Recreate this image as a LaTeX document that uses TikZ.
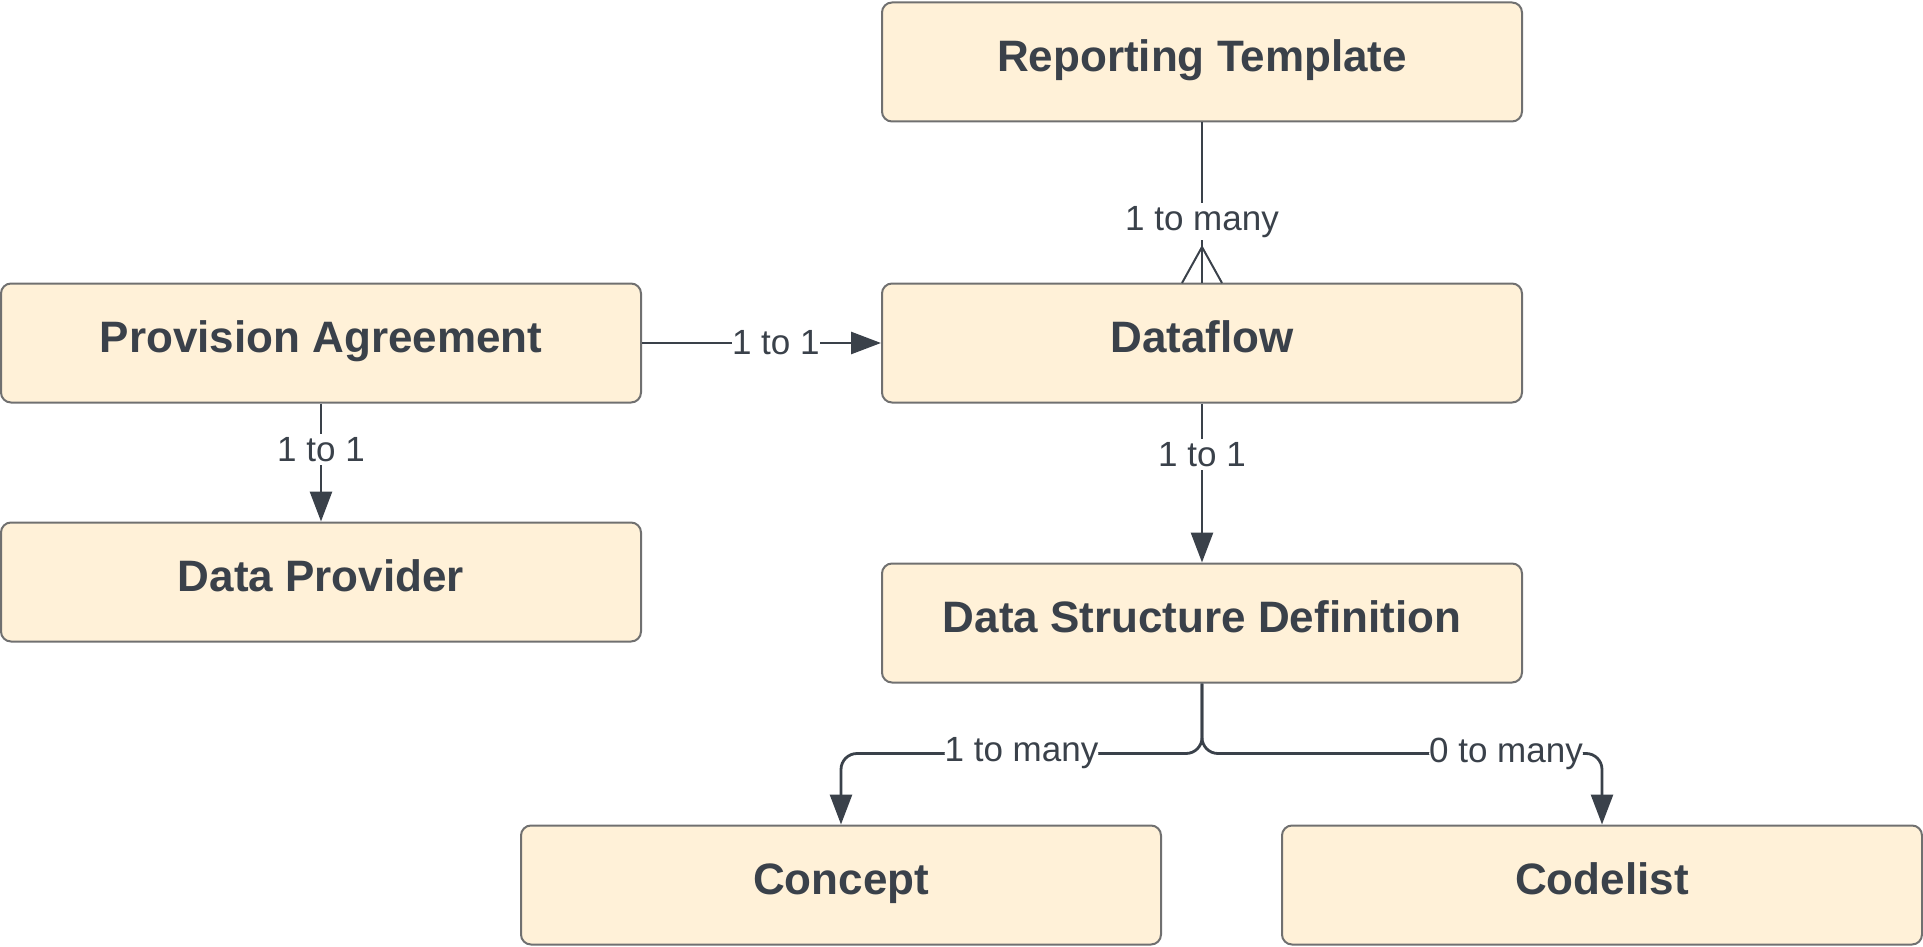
\documentclass[tikz,border=0pt]{standalone}
\usepackage{fontspec}
\setmainfont{Liberation Sans}
\usetikzlibrary{arrows.meta}
\definecolor{ink}{RGB}{58,65,74}
\definecolor{cream}{RGB}{255,241,216}
\definecolor{edge}{RGB}{112,112,112}
\tikzset{
  box/.style={draw=edge, line width=1pt, fill=cream, rounded corners=5pt,
    minimum width=320pt, minimum height=59.5pt, inner sep=0pt,
    text height=1.06em, text depth=0.12em,
    text=ink, font=\fontsize{22}{26}\selectfont\bfseries},
  conn/.style={draw=ink, line width=1.4pt, -{Triangle[length=15pt,width=11pt]}},
  plain/.style={draw=ink, line width=1.4pt},
  lbl/.style={fill=white, text=ink, inner sep=1.5pt, font=\fontsize{17.5}{21}\selectfont}
}
\begin{document}
\begin{tikzpicture}[x=0.5pt,y=-0.5pt]
\useasboundingbox (0,0) rectangle (1923,947);
\node[box] (rt)  at (1202,62)  {Reporting Template};
\node[box] (pa)  at (321,343)  {Provision Agreement};
\node[box] (df)  at (1202,343) {Dataflow};
\node[box] (dp)  at (321,582)  {Data Provider};
\node[box] (dsd) at (1202,623) {Data Structure Definition};
\node[box] (con) at (841,885)  {Concept};
\node[box] (cod) at (1602,885) {Codelist};
% Reporting Template -> Dataflow (crow's foot)
\coordinate (apex) at (1202,247);
\draw[plain] (rt.south) -- node[lbl, pos=0.62]{1 to many} (df.north);
\draw[draw=ink, line width=1pt] (1182,283) -- (apex) -- (1222,283);
% Provision Agreement -> Dataflow
\draw[conn] (pa.east) -- node[lbl, pos=0.56, inner sep=0pt]{1 to 1} (df.west);
% Provision Agreement -> Data Provider
\draw[conn] (pa.south) -- node[lbl, pos=0.39]{1 to 1} (dp.north);
% Dataflow -> DSD
\draw[conn] (df.south) -- node[lbl, pos=0.32]{1 to 1} (dsd.north);
% DSD -> Concept / Codelist
\draw[conn, rounded corners=8pt] (dsd.south) -- ++(0,70) -| node[lbl, pos=0.25, inner sep=0pt]{1 to many} (con.north);
\draw[conn, rounded corners=8pt] (dsd.south) -- ++(0,70) -| node[lbl, pos=0.38, inner sep=0pt]{0 to many} (cod.north);
\end{tikzpicture}
\end{document}
